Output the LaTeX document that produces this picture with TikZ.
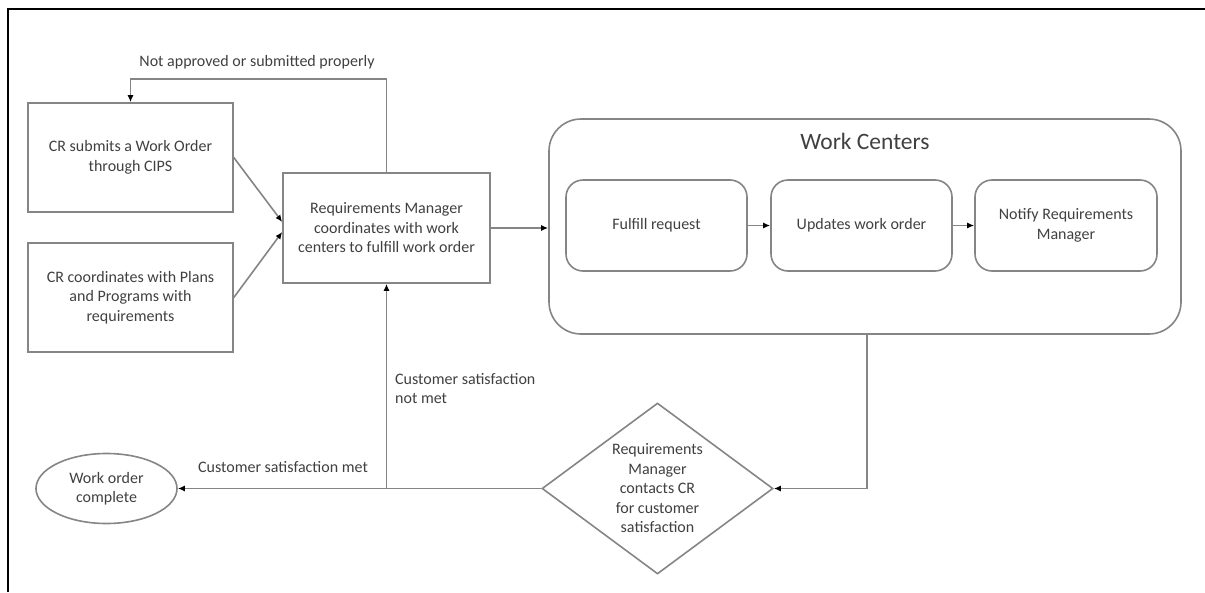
\documentclass[tikz,border=0pt]{standalone}
\usepackage{fontspec}
\setmainfont{Carlito}
\usetikzlibrary{arrows.meta,shapes.geometric,calc}
\definecolor{txt}{HTML}{404040}
\definecolor{ln}{HTML}{858585}
\begin{document}
\begin{tikzpicture}[x=1pt,y=-1pt,
  every node/.style={font=\fontsize{16}{19.5}\selectfont, text=txt},
  box/.style={draw=ln, line width=1.6pt, rectangle, align=center, inner sep=2pt},
  rbox/.style={box, rounded corners=17pt},
  conn/.style={draw=ln, line width=1.6pt},
  arr/.style={conn, -{Latex[length=7pt,width=6pt,color=black]}},
  lbl/.style={inner sep=0pt}
]
\useasboundingbox (0,0) rectangle (1205,592);
% frame
\draw[black, line width=2.5pt] (8,592) -- (8,9) -- (1205,9);

% nodes
\node[box, minimum width=205, minimum height=109] (cr1) at (130.5,157.5) {CR submits a Work Order\\through CIPS};
\node[box, minimum width=205, minimum height=109] (cr2) at (130.5,297.5) {CR coordinates with Plans\\and Programs with\\requirements};
\node[box, minimum width=207, minimum height=110] (rm) at (386.5,228) {Requirements Manager\\coordinates with work\\centers to fulfill work order};
\node[box, rounded corners=32pt, minimum width=632, minimum height=215] (wc) at (865,226.5) {};
\node[lbl, font=\fontsize{23.5}{28}\selectfont] (wct) at (865,141) {Work Centers};
\node[rbox, minimum width=181, minimum height=91] (fr) at (656.5,225.5) {Fulfill request};
\node[rbox, minimum width=181, minimum height=91] (uw) at (861.5,225.5) {Updates work order};
\node[rbox, minimum width=182, minimum height=91] (nr) at (1066,225.5) {Notify Requirements\\Manager};
\node[draw=ln, line width=1.6pt, diamond, aspect=1.35, inner sep=0pt, align=center,
      minimum width=231, minimum height=171] (dm) at (657.5,488.5)
      {Requirements\\Manager\\contacts CR\\for customer\\satisfaction};
\node[draw=ln, line width=1.6pt, ellipse, align=center, inner sep=0pt,
      minimum width=141, minimum height=70] (el) at (106.5,488.5) {Work order\\complete};

% labels
\node[lbl] (l1) at (257,62) {Not approved or submitted properly};
\node[lbl] (l2) at (283,467) {Customer satisfaction met};
\node[lbl, anchor=west, align=left] (l3) at (395,388.5) {Customer satisfaction\\not met};

% connectors
\draw[arr] (rm.north) -- (rm.north |- 0,79) -| (cr1.north);
\draw[arr] (cr1.east) -- ($(rm.west)+(0,-6)$);
\draw[arr] (cr2.east) -- ($(rm.west)+(0,4)$);
\draw[arr] (rm.east) -- (rm.east -| wc.west);
\draw[arr] (fr.east) -- (uw.west);
\draw[arr] (uw.east) -- (nr.west);
\draw[arr] ($(wc.south)+(2,0)$) |- (dm.east);
\draw[arr] (dm.west) -- (el.east);
\coordinate (j) at (rm.south |- dm.west);
\draw[arr] (j) -- (rm.south);
\end{tikzpicture}
\end{document}
